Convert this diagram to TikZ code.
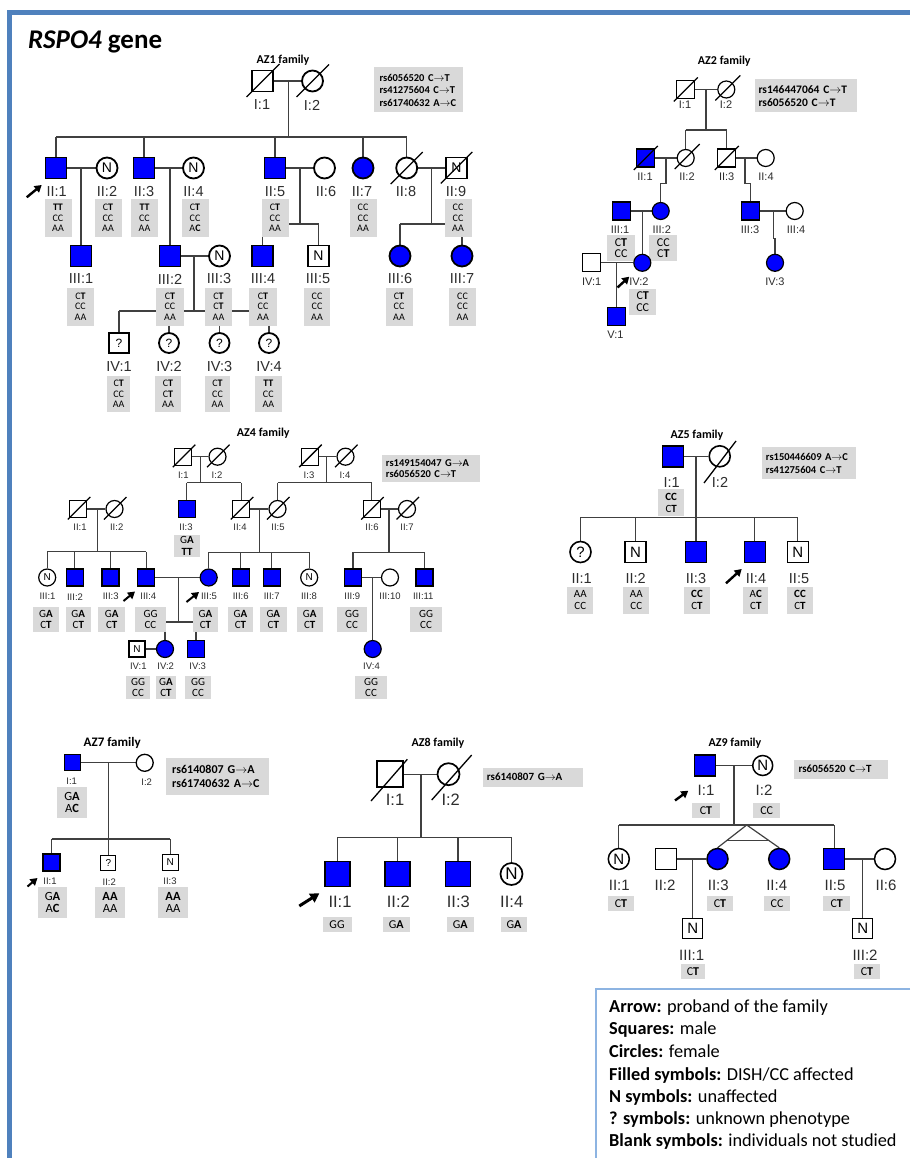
\documentclass[tikz,border=0pt]{standalone}
\usepackage{fontspec}
\usepackage{graphicx}
\setmainfont{Carlito}
\newfontfamily\arialf{Liberation Sans}
\usetikzlibrary{calc,arrows.meta}
\definecolor{frameblue}{RGB}{79,129,189}
\definecolor{legblue}{RGB}{141,180,226}
\definecolor{affblue}{RGB}{0,0,255}
\definecolor{boxgray}{RGB}{217,217,217}
\definecolor{linegray}{RGB}{64,64,64}
\definecolor{labgray}{RGB}{45,45,45}
\pgfdeclarelayer{back}
\pgfdeclarelayer{bg}
\pgfsetlayers{back,bg,main}
\newcommand\vA{\textbf{A}}
\newcommand\vC{\textbf{C}}
\newcommand\vT{\textbf{T}}
\newcommand\myfs[2]{\fontsize{#1}{#2}\selectfont}
\newcommand\deadmark[3]{\draw[slash] ($(#1.center)+(-#2,#2)$) -- ($(#1.center)+(#3,-#3)$);}
\newcommand\symfont{\arialf\myfs{14}{14}}
\newcommand\labfont{\arialf\myfs{14}{14}}
\newcommand\gtfont{\myfs{10}{10.5}}
\newcommand\snpfont{\myfs{11}{12.5}}
\newcommand\slw{1.6pt}
\tikzset{
  sq/.style={rectangle, draw=black, fill=white, minimum size=#1, inner sep=0pt, line width=\slw, font=\symfont},
  ci/.style={circle, draw=black, fill=white, minimum size=#1, inner sep=0pt, line width=\slw, font=\symfont},
  aff/.style={fill=affblue},
  rel/.style={draw=linegray, line width=1.2pt},
  slash/.style={draw=black, line width=1.3pt},
  gb/.style={fill=boxgray, inner sep=0pt, anchor=north, align=center, font=\gtfont},
  lab/.style={font=\labfont, text=labgray, inner sep=0pt},
  prb/.style={-{Triangle[length=7pt,width=8pt]}, line width=2.4pt},
  fam/.style={font=\bfseries\myfs{12}{12}, inner sep=0pt},
  snp/.style={fill=boxgray, anchor=north west, align=left, inner ysep=0pt, font=\bfseries\snpfont},
  leg/.style={anchor=base west, inner sep=0pt, font=\myfs{18.3}{18.3}},
}
\begin{document}
\begin{tikzpicture}[x=1pt,y=-1pt]
\useasboundingbox (0,0) rectangle (910,1158);
\begin{pgfonlayer}{back}
\fill[white] (0,0) rectangle (910,1158);
\end{pgfonlayer}
\draw[frameblue, line width=4.5pt] (9.7,1158) -- (9.7,12.5) -- (910,12.5);
\draw[legblue, line width=1.5pt] (910,989) -- (596,989) -- (596,1158);
\node[anchor=base west, inner sep=0pt, font=\bfseries\myfs{27}{27}] (title) at (28,48.5) {\textit{RSPO4} gene};

% ================= AZ1 =================
\renewcommand\symfont{\arialf\myfs{14}{14}}
\renewcommand\labfont{\arialf\myfs{14.5}{14.5}}
\renewcommand\gtfont{\myfs{10}{10.5}}
\renewcommand\snpfont{\myfs{10.5}{12.5}}
\renewcommand\slw{1.8pt}
\node[fam] (a1t) at (283,60) {AZ1 family};
\node[snp, inner xsep=6pt, text width=77pt, minimum height=45pt] (a1snp) at (373.3,67.3) {rs6056520~C$\rightarrow$T\\rs41275604~C$\rightarrow$T\\rs61740632~A$\rightarrow$C};
\node[sq=21pt] (a1I1) at (262.5,81) {};
\node[ci=21pt] (a1I2) at (312.5,81) {};
\deadmark{a1I1}{16}{17}
\deadmark{a1I2}{16}{16.5}
\node[lab] (a1lI1) at (262,105) {I:1};
\node[lab] (a1lI2) at (312,105) {I:2};
\node[sq=21pt, aff] (a1II1) at (56,168) {};
\node[ci=21pt] (a1II2) at (107,168) {N};
\node[sq=21pt, aff] (a1II3) at (144,168) {};
\node[ci=21pt] (a1II4) at (193.5,168) {N};
\node[sq=21pt, aff] (a1II5) at (275,168) {};
\node[ci=21pt] (a1II6) at (324.5,168) {};
\node[ci=21pt, aff] (a1II7) at (363,168) {};
\node[ci=21pt] (a1II8) at (406.7,168) {};
\node[sq=21pt] (a1II9) at (456.3,168) {N};
\deadmark{a1II8}{16}{16}
\deadmark{a1II9}{15.5}{16}
\node[lab] (a1lII1) at (56.7,191.7) {II:1};
\node[lab] (a1lII2) at (107,191.7) {II:2};
\node[lab] (a1lII3) at (144,191.7) {II:3};
\node[lab] (a1lII4) at (193.5,191.7) {II:4};
\node[lab] (a1lII5) at (275,191.7) {II:5};
\node[lab] (a1lII6) at (326,191.7) {II:6};
\node[lab] (a1lII7) at (362,191.7) {II:7};
\node[lab] (a1lII8) at (406,191.7) {II:8};
\node[lab] (a1lII9) at (456,191.7) {II:9};
\draw[prb] (26.7,197.3) -- (41.7,185);
\node[gb, minimum width=27pt, minimum height=38pt] (a1gII1) at (58,199) {\vT\vT\\CC\\AA};
\node[gb, minimum width=27pt, minimum height=38pt] (a1gII2) at (108,199) {C\vT\\CC\\AA};
\node[gb, minimum width=27pt, minimum height=38pt] (a1gII3) at (144.5,199) {\vT\vT\\CC\\AA};
\node[gb, minimum width=27pt, minimum height=38pt] (a1gII4) at (195,199) {C\vT\\CC\\A\vC};
\node[gb, minimum width=27pt, minimum height=38pt] (a1gII5) at (275,199) {C\vT\\CC\\AA};
\node[gb, minimum width=27pt, minimum height=38pt] (a1gII7) at (363,199) {CC\\CC\\AA};
\node[gb, minimum width=27pt, minimum height=38pt] (a1gII9) at (458,199) {CC\\CC\\AA};
\node[sq=21pt, aff] (a1III1) at (81,256) {};
\node[sq=21pt, aff] (a1III2) at (170,256) {};
\node[ci=21pt] (a1III3) at (219.5,256) {N};
\node[sq=21pt, aff] (a1III4) at (262.5,256) {};
\node[sq=21pt] (a1III5) at (318.5,256) {N};
\node[ci=21pt, aff] (a1III6) at (400,256) {};
\node[ci=21pt, aff] (a1III7) at (462,256) {};
\node[lab] (a1lIII1) at (81,279) {III:1};
\node[lab] (a1lIII2) at (170,279) {III:2};
\node[lab] (a1lIII3) at (219,279) {III:3};
\node[lab] (a1lIII4) at (263,279) {III:4};
\node[lab] (a1lIII5) at (318,279) {III:5};
\node[lab] (a1lIII6) at (400,279) {III:6};
\node[lab] (a1lIII7) at (462,279) {III:7};
\node[gb, minimum width=27pt, minimum height=38pt] (a1gIII1) at (80.5,287.3) {C\vT\\CC\\AA};
\node[gb, minimum width=28pt, minimum height=38pt] (a1gIII2) at (170,287.3) {C\vT\\CC\\AA};
\node[gb, minimum width=27pt, minimum height=38pt] (a1gIII3) at (218.5,287.3) {C\vT\\C\vT\\AA};
\node[gb, minimum width=28pt, minimum height=38pt] (a1gIII4) at (263,287.3) {C\vT\\CC\\AA};
\node[gb, minimum width=26pt, minimum height=38pt] (a1gIII5) at (317,287.3) {CC\\CC\\AA};
\node[gb, minimum width=27pt, minimum height=38pt] (a1gIII6) at (399,287.3) {C\vT\\CC\\AA};
\node[gb, minimum width=27pt, minimum height=38pt] (a1gIII7) at (462.5,287.3) {CC\\CC\\AA};
\renewcommand\symfont{\arialf\myfs{12}{12}}
\node[sq=20pt] (a1IV1) at (119,343) {?};
\node[ci=20pt] (a1IV2) at (169,343) {?};
\node[ci=20pt] (a1IV3) at (219.5,343) {?};
\node[ci=20pt] (a1IV4) at (269,343) {?};
\node[lab] (a1lIV1) at (119,366.7) {IV:1};
\node[lab] (a1lIV2) at (169,366.7) {IV:2};
\node[lab] (a1lIV3) at (219.5,366.7) {IV:3};
\node[lab] (a1lIV4) at (269,366.7) {IV:4};
\node[gb, minimum width=23pt, minimum height=36pt] (a1gIV1) at (118.7,375.7) {C\vT\\CC\\AA};
\node[gb, minimum width=26pt, minimum height=36pt] (a1gIV2) at (168,375.7) {C\vT\\C\vT\\AA};
\node[gb, minimum width=25pt, minimum height=36pt] (a1gIV3) at (217.5,375.7) {C\vT\\CC\\AA};
\node[gb, minimum width=27pt, minimum height=36pt] (a1gIV4) at (268.3,375.7) {\vT\vT\\CC\\AA};
\coordinate (a1d0) at (288.3,81);
\coordinate (a1s0L) at (56,137); \coordinate (a1s0R) at (406.7,137);
\coordinate (a1d3) at (300,168);
\coordinate (a1s3L) at (262.5,224); \coordinate (a1s3R) at (318.5,224);
\coordinate (a1d4) at (431.7,168);
\coordinate (a1s4L) at (400,224); \coordinate (a1s4R) at (462,224);
\coordinate (a1d5) at (194,256);
\coordinate (a1s5L) at (119,311); \coordinate (a1s5R) at (269,311);
\begin{pgfonlayer}{bg}
\draw[rel] (a1I1) -- (a1I2);
\draw[rel] (a1d0) -- (a1d0 |- a1s0L);
\draw[rel] (a1s0L) -- (a1s0R);
\foreach \c in {II1,II3,II5,II7,II8} \draw[rel] (a1\c) -- (a1\c |- a1s0L);
\draw[rel] (a1II1) -- (a1II2);
\draw[rel] (a1III1) -- (a1III1 |- a1II1);
\draw[rel] (a1II3) -- (a1II4);
\draw[rel] (a1III2) -- (a1III2 |- a1II3);
\draw[rel] (a1II5) -- (a1II6);
\draw[rel] (a1d3) -- (a1d3 |- a1s3L);
\draw[rel] (a1s3L) -- (a1s3R);
\foreach \c in {III4,III5} \draw[rel] (a1\c) -- (a1\c |- a1s3L);
\draw[rel] (a1II8) -- (a1II9);
\draw[rel] (a1d4) -- (a1d4 |- a1s4L);
\draw[rel] (a1s4L) -- (a1s4R);
\foreach \c in {III6,III7} \draw[rel] (a1\c) -- (a1\c |- a1s4L);
\draw[rel] (a1III2) -- (a1III3);
\draw[rel] (a1d5) -- (a1d5 |- a1s5L);
\draw[rel] (a1s5L) -- (a1s5R);
\foreach \c in {IV1,IV2,IV3,IV4} \draw[rel] (a1\c) -- (a1\c |- a1s5L);
\end{pgfonlayer}

% ================= AZ2 =================
\renewcommand\symfont{\arialf\myfs{12}{12}}
\renewcommand\labfont{\arialf\myfs{11}{11}}
\renewcommand\gtfont{\myfs{12}{11.5}}
\renewcommand\snpfont{\myfs{11.5}{13}}
\renewcommand\slw{1.2pt}
\node[fam] (a2t) at (724.3,61.7) {AZ2 family};
\node[snp, inner xsep=3.3pt, text width=95pt, minimum height=32.4pt] (a2snp) at (755,79.3) {rs146447064~C$\rightarrow$T\\rs6056520~C$\rightarrow$T};
\node[sq=18pt] (a2I1) at (685.8,89.5) {};
\node[ci=17pt] (a2I2) at (726.3,89.5) {};
\deadmark{a2I1}{12}{12}
\deadmark{a2I2}{11}{14}
\node[lab] (a2lI1) at (685,105) {I:1};
\node[lab] (a2lI2) at (726,105) {I:2};
\node[sq=18pt, aff] (a2II1) at (645.8,158) {};
\node[ci=17pt] (a2II2) at (685.7,158) {};
\node[sq=18pt] (a2II3) at (726.8,158) {};
\node[ci=17pt] (a2II4) at (765.7,158) {};
\deadmark{a2II1}{12}{12}
\deadmark{a2II2}{11}{14}
\deadmark{a2II3}{12}{12}
\node[lab] (a2lII1) at (645,176.7) {II:1};
\node[lab] (a2lII2) at (687,176.7) {II:2};
\node[lab] (a2lII3) at (726.7,176.7) {II:3};
\node[lab] (a2lII4) at (766,176.7) {II:4};
\node[sq=18pt, aff] (a2III1) at (621.3,211) {};
\node[ci=17pt, aff] (a2III2) at (660.7,211) {};
\node[sq=18pt, aff] (a2III3) at (750.2,211) {};
\node[ci=17pt] (a2III4) at (794.7,211) {};
\node[lab] (a2lIII1) at (620,230) {III:1};
\node[lab] (a2lIII2) at (661.7,230) {III:2};
\node[lab] (a2lIII3) at (750,230) {III:3};
\node[lab] (a2lIII4) at (796,230) {III:4};
\node[gb, minimum width=28.3pt, minimum height=25.7pt] (a2gIII1) at (621,235) {C\vT\\CC};
\node[gb, minimum width=28pt, minimum height=25.7pt] (a2gIII2) at (663.3,235) {CC\\C\vT};
\node[sq=18pt] (a2IV1) at (591.3,262.8) {};
\node[ci=17pt, aff] (a2IV2) at (642.3,262.8) {};
\node[ci=17pt, aff] (a2IV3) at (775,262.8) {};
\node[lab] (a2lIV1) at (591.7,281.7) {IV:1};
\node[lab] (a2lIV2) at (639,281.7) {IV:2};
\node[lab] (a2lIV3) at (775,281.7) {IV:3};
\draw[prb] (617.5,287.5) -- (629.3,276.7);
\node[gb, minimum width=26.7pt, minimum height=26.7pt] (a2gIV2) at (642.7,288.3) {C\vT\\CC};
\node[sq=18pt, aff] (a2V1) at (616.7,316.7) {};
\node[lab] (a2lV1) at (615.5,335) {V:1};
\coordinate (a2d0) at (706,89.5);
\coordinate (a2s0L) at (685.7,130); \coordinate (a2s0R) at (726.8,130);
\coordinate (a2d1) at (666,158); \coordinate (a2j1) at (666,183.3); \coordinate (a2j1b) at (660.7,183.3);
\coordinate (a2d2) at (745,158); \coordinate (a2j2) at (745,183.3); \coordinate (a2j2b) at (750.2,183.3);
\coordinate (a2d3) at (642.3,211);
\coordinate (a2d4) at (773.3,211); \coordinate (a2j4) at (773.3,238.3); \coordinate (a2j4b) at (775,238.3);
\coordinate (a2d5) at (616.7,262.8);
\begin{pgfonlayer}{bg}
\draw[rel] (a2I1) -- (a2I2);
\draw[rel] (a2d0) -- (a2d0 |- a2s0L);
\draw[rel] (a2s0L) -- (a2s0R);
\foreach \c in {II2,II3} \draw[rel] (a2\c) -- (a2\c |- a2s0L);
\draw[rel] (a2II1) -- (a2II2);
\draw[rel] (a2d1) -- (a2j1) -- (a2j1b) -- (a2III2);
\draw[rel] (a2II3) -- (a2II4);
\draw[rel] (a2d2) -- (a2j2) -- (a2j2b) -- (a2III3);
\draw[rel] (a2III1) -- (a2III2);
\draw[rel] (a2d3) -- (a2IV2);
\draw[rel] (a2III3) -- (a2III4);
\draw[rel] (a2d4) -- (a2j4) -- (a2j4b) -- (a2IV3);
\draw[rel] (a2IV1) -- (a2IV2);
\draw[rel] (a2d5) -- (a2V1);
\end{pgfonlayer}

% ================= AZ4 =================
\renewcommand\symfont{\arialf\myfs{10}{10}}
\renewcommand\labfont{\arialf\myfs{9.5}{9.5}}
\renewcommand\gtfont{\myfs{11}{11.3}}
\renewcommand\snpfont{\myfs{10.5}{11.3}}
\renewcommand\slw{1.2pt}
\node[fam] (a4t) at (263.3,433.3) {AZ4 family};
\node[snp, inner xsep=4pt, text width=90.3pt, minimum height=26.7pt] (a4snp) at (381.7,455) {rs149154047~G$\rightarrow$A\\rs6056520~C$\rightarrow$T};
\node[sq=17pt] (a4I1) at (183.3,456.7) {};
\node[ci=17pt] (a4I2) at (217.5,456.7) {};
\node[sq=17pt] (a4I3) at (309.7,456.7) {};
\node[ci=17pt] (a4I4) at (345.5,456.7) {};
\node[lab] (a4lI1) at (183.3,475) {I:1};
\node[lab] (a4lI2) at (217,475) {I:2};
\node[lab] (a4lI3) at (309,475) {I:3};
\node[lab] (a4lI4) at (345,475) {I:4};
\node[sq=17pt] (a4II1) at (78.3,509) {};
\node[ci=17pt] (a4II2) at (114.5,509) {};
\node[sq=17pt, aff] (a4II3) at (186.7,509) {};
\node[sq=17pt] (a4II4) at (241.3,509) {};
\node[ci=17pt] (a4II5) at (277.5,509) {};
\node[sq=17pt] (a4II6) at (371.7,509) {};
\node[ci=17pt] (a4II7) at (407,509) {};
\foreach \c in {I1,I2,I3,I4,II1,II2,II4,II5,II6,II7} {\deadmark{a4\c}{10.5}{12}}
\node[lab] (a4lII1) at (80,527.3) {II:1};
\node[lab] (a4lII2) at (116.7,527.3) {II:2};
\node[lab] (a4lII3) at (186,527.3) {II:3};
\node[lab] (a4lII4) at (240,527.3) {II:4};
\node[lab] (a4lII5) at (278,527.3) {II:5};
\node[lab] (a4lII6) at (372,527.3) {II:6};
\node[lab] (a4lII7) at (407,527.3) {II:7};
\node[gb, minimum width=26pt, minimum height=21.7pt] (a4gII3) at (187,535) {G\vA\\\vT\vT};
\node[ci=17pt] (a4III1) at (47.2,577.5) {N};
\node[sq=17pt, aff] (a4III2) at (74.7,577.5) {};
\node[sq=17pt, aff] (a4III3) at (110.5,577.5) {};
\node[sq=17pt, aff] (a4III4) at (146.3,577.5) {};
\node[ci=17pt, aff] (a4III5) at (208.7,577.5) {};
\node[sq=17pt, aff] (a4III6) at (240.8,577.5) {};
\node[sq=17pt, aff] (a4III7) at (271.8,577.5) {};
\node[ci=17pt] (a4III8) at (309.2,577.5) {N};
\node[sq=17pt, aff] (a4III9) at (353,577.5) {};
\node[ci=17pt] (a4III10) at (390,577.5) {};
\node[sq=17pt, aff] (a4III11) at (424.5,577.5) {};
\node[lab] (a4lIII1) at (47.5,596.7) {III:1};
\node[lab] (a4lIII2) at (75,596.7) {III:2};
\node[lab] (a4lIII3) at (110.7,596.7) {III:3};
\node[lab] (a4lIII4) at (148.3,596.7) {III:4};
\node[lab] (a4lIII5) at (209,596.7) {III:5};
\node[lab] (a4lIII6) at (240.7,596.7) {III:6};
\node[lab] (a4lIII7) at (271.7,596.7) {III:7};
\node[lab] (a4lIII8) at (309,596.7) {III:8};
\node[lab] (a4lIII9) at (352.3,596.7) {III:9};
\node[lab] (a4lIII10) at (390,596.7) {III:10};
\node[lab] (a4lIII11) at (423.3,596.7) {III:11};
\begin{scope}[prb/.append style={line width=2pt}]
\draw[prb] (123.5,601) -- (135,591.5);
\draw[prb] (186.5,602) -- (199,592);
\end{scope}
\node[gb, minimum width=26pt, minimum height=25pt] (a4gIII1) at (46,607) {G\vA\\C\vT};
\node[gb, minimum width=24.7pt, minimum height=25pt] (a4gIII2) at (78.3,607) {G\vA\\C\vT};
\node[gb, minimum width=26.7pt, minimum height=25pt] (a4gIII3) at (111.7,607) {G\vA\\C\vT};
\node[gb, minimum width=31pt, minimum height=25pt] (a4gIII4) at (150.5,607) {GG\\CC};
\node[gb, minimum width=25.6pt, minimum height=25pt] (a4gIII5) at (205.5,607) {G\vA\\C\vT};
\node[gb, minimum width=25.6pt, minimum height=25pt] (a4gIII6) at (240.5,607) {G\vA\\C\vT};
\node[gb, minimum width=26.7pt, minimum height=25pt] (a4gIII7) at (273.3,607) {G\vA\\C\vT};
\node[gb, minimum width=26pt, minimum height=25pt] (a4gIII8) at (309.7,607) {G\vA\\C\vT};
\node[gb, minimum width=29.4pt, minimum height=25pt] (a4gIII9) at (352,607) {GG\\CC};
\node[gb, minimum width=32.7pt, minimum height=25pt] (a4gIII11) at (426,607) {GG\\CC};
\node[sq=16pt] (a4IV1) at (137,649) {N};
\node[ci=17pt, aff] (a4IV2) at (165,649) {};
\node[sq=17pt, aff] (a4IV3) at (196,649) {};
\node[ci=17pt, aff] (a4IV4) at (372.7,649) {};
\node[lab] (a4lIV1) at (138.3,666) {IV:1};
\node[lab] (a4lIV2) at (165.7,666) {IV:2};
\node[lab] (a4lIV3) at (197.7,666) {IV:3};
\node[lab] (a4lIV4) at (371.5,666) {IV:4};
\node[gb, minimum width=24pt, minimum height=22.3pt] (a4gIV1) at (138,676) {GG\\CC};
\node[gb, minimum width=20pt, minimum height=22.3pt] (a4gIV2) at (166,676) {G\vA\\C\vT};
\node[gb, minimum width=26.7pt, minimum height=22.3pt] (a4gIV3) at (198,676) {GG\\CC};
\node[gb, minimum width=32.3pt, minimum height=22.3pt] (a4gIV4) at (371,676) {GG\\CC};
\coordinate (a4d1) at (200.7,456.7);
\coordinate (a4s1L) at (186.7,482.7); \coordinate (a4s1R) at (241.3,482.7);
\coordinate (a4d2) at (326.7,456.7);
\coordinate (a4s2L) at (277.5,482.5); \coordinate (a4s2R) at (371.7,482.5);
\coordinate (a4d3) at (97.3,509);
\coordinate (a4s3L) at (47.2,551.7); \coordinate (a4s3R) at (146.3,551.7);
\coordinate (a4d4) at (259.3,509);
\coordinate (a4s4L) at (208.7,552.3); \coordinate (a4s4R) at (309.2,552.3);
\coordinate (a4d5) at (389,509);
\coordinate (a4s5L) at (353,552.3); \coordinate (a4s5R) at (424.5,552.3);
\coordinate (a4d6) at (178.3,577.5);
\coordinate (a4s6L) at (165,622); \coordinate (a4s6R) at (196,622);
\coordinate (a4d7) at (372.7,577.5);
\begin{pgfonlayer}{bg}
\draw[rel] (a4I1) -- (a4I2);
\draw[rel] (a4d1) -- (a4d1 |- a4s1L);
\draw[rel] (a4s1L) -- (a4s1R);
\foreach \c in {II3,II4} \draw[rel] (a4\c) -- (a4\c |- a4s1L);
\draw[rel] (a4I3) -- (a4I4);
\draw[rel] (a4d2) -- (a4d2 |- a4s2L);
\draw[rel] (a4s2L) -- (a4s2R);
\foreach \c in {II5,II6} \draw[rel] (a4\c) -- (a4\c |- a4s2L);
\draw[rel] (a4II1) -- (a4II2);
\draw[rel] (a4d3) -- (a4d3 |- a4s3L);
\draw[rel] (a4s3L) -- (a4s3R);
\foreach \c in {III1,III2,III3,III4} \draw[rel] (a4\c) -- (a4\c |- a4s3L);
\draw[rel] (a4II4) -- (a4II5);
\draw[rel] (a4d4) -- (a4d4 |- a4s4L);
\draw[rel] (a4s4L) -- (a4s4R);
\foreach \c in {III5,III6,III7,III8} \draw[rel] (a4\c) -- (a4\c |- a4s4L);
\draw[rel] (a4II6) -- (a4II7);
\draw[rel] (a4d5) -- (a4d5 |- a4s5L);
\draw[rel] (a4s5L) -- (a4s5R);
\foreach \c in {III9,III11} \draw[rel] (a4\c) -- (a4\c |- a4s5L);
\draw[rel] (a4III4) -- (a4III5);
\draw[rel] (a4d6) -- (a4d6 |- a4s6L);
\draw[rel] (a4s6L) -- (a4s6R);
\foreach \c in {IV2,IV3} \draw[rel] (a4\c) -- (a4\c |- a4s6L);
\draw[rel] (a4III9) -- (a4III10);
\draw[rel] (a4d7) -- (a4IV4);
\draw[rel] (a4IV1) -- (a4IV2);
\end{pgfonlayer}

% ================= AZ5 =================
\renewcommand\symfont{\arialf\myfs{15}{15}}
\renewcommand\labfont{\arialf\myfs{14.5}{14.5}}
\renewcommand\gtfont{\myfs{11}{11.7}}
\renewcommand\snpfont{\myfs{10.5}{13}}
\renewcommand\slw{1.6pt}
\node[fam] (a5t) at (697,435) {AZ5 family};
\node[snp, inner xsep=4pt, text width=86.3pt, minimum height=32.3pt] (a5snp) at (761.7,446.7) {rs150446609~A$\rightarrow$C\\rs41275604~C$\rightarrow$T};
\node[sq=21pt, aff] (a5I1) at (672.8,456.3) {};
\node[ci=21pt] (a5I2) at (719.7,456.3) {};
\coordinate (a5x1) at (704,483); \coordinate (a5x2) at (736,441);
\draw[slash] (a5x1) -- (a5x2);
\node[lab] (a5lI1) at (671.7,482.7) {I:1};
\node[lab] (a5lI2) at (720,482.7) {I:2};
\node[gb, minimum width=25.7pt, minimum height=27pt] (a5gI1) at (671.2,489) {\vC\vC\\C\vT};
\node[ci=21pt] (a5II1) at (580.5,552) {?};
\node[sq=21pt] (a5II2) at (635.5,552) {N};
\node[sq=21pt, aff] (a5II3) at (696,552) {};
\node[sq=21pt, aff] (a5II4) at (754.8,552) {};
\node[sq=21pt] (a5II5) at (797.8,552) {N};
\node[lab] (a5lII1) at (581.7,578.3) {II:1};
\node[lab] (a5lII2) at (635.7,578.3) {II:2};
\node[lab] (a5lII3) at (696,578.3) {II:3};
\node[lab] (a5lII4) at (756,578.3) {II:4};
\node[lab] (a5lII5) at (799,578.3) {II:5};
\draw[prb] (726,583.3) -- (741.7,569);
\node[gb, minimum width=26pt, minimum height=26.7pt] (a5gII1) at (580.3,586.7) {AA\\CC};
\node[gb, minimum width=26pt, minimum height=26.7pt] (a5gII2) at (636.3,586.7) {AA\\CC};
\node[gb, minimum width=26pt, minimum height=26.7pt] (a5gII3) at (697,586.7) {\vC\vC\\C\vT};
\node[gb, minimum width=25pt, minimum height=26.7pt] (a5gII4) at (755.8,586.7) {A\vC\\C\vT};
\node[gb, minimum width=26.6pt, minimum height=26.7pt] (a5gII5) at (800,586.7) {\vC\vC\\C\vT};
\coordinate (a5d0) at (696,456.3);
\coordinate (a5s0L) at (580.5,517.3); \coordinate (a5s0R) at (797.8,517.3);
\begin{pgfonlayer}{bg}
\draw[rel] (a5I1) -- (a5I2);
\draw[rel] (a5d0) -- (a5d0 |- a5s0L);
\draw[rel] (a5s0L) -- (a5s0R);
\foreach \c in {II1,II2,II3,II4,II5} \draw[rel] (a5\c) -- (a5\c |- a5s0L);
\end{pgfonlayer}

% ================= AZ7 =================
\renewcommand\symfont{\arialf\myfs{10}{10}}
\renewcommand\labfont{\arialf\myfs{9.5}{9.5}}
\renewcommand\gtfont{\myfs{12.5}{12}}
\renewcommand\snpfont{\myfs{12}{14}}
\renewcommand\slw{1.3pt}
\node[fam, font=\bfseries\myfs{13}{13}] (a7t) at (112.2,743.3) {AZ7 family};
\node[snp, inner xsep=6pt, text width=90.3pt, minimum height=37.3pt] (a7snp) at (166,757.7) {rs6140807~G$\rightarrow$A\\rs61740632~A$\rightarrow$C};
\node[sq=16pt, aff] (a7I1) at (72.2,762.8) {};
\node[ci=17pt] (a7I2) at (144.7,762.8) {};
\node[lab] (a7lI1) at (71.7,781.7) {I:1};
\node[lab] (a7lI2) at (146.7,781.7) {I:2};
\node[gb, minimum width=30.6pt, minimum height=31pt] (a7gI1) at (72,786.7) {G\vA\\A\vC};
\node[sq=17pt, aff] (a7II1) at (51.5,862.5) {};
\node[sq=15pt] (a7II2) at (108.3,863) {?};
\node[sq=16pt] (a7II3) at (170.3,862.5) {N};
\node[lab] (a7lII1) at (50,881.7) {II:1};
\node[lab] (a7lII2) at (109.3,881.7) {II:2};
\node[lab] (a7lII3) at (170,881.7) {II:3};
\begin{scope}[prb/.append style={line width=2pt}]
\draw[prb] (27.5,886.5) -- (37.5,878);
\end{scope}
\node[gb, minimum width=29.6pt, minimum height=31pt] (a7gII1) at (52.5,886.7) {G\vA\\A\vC};
\node[gb, minimum width=29.3pt, minimum height=31pt] (a7gII2) at (110,886.7) {\vA\vA\\AA};
\node[gb, minimum width=30.6pt, minimum height=31pt] (a7gII3) at (173,886.7) {\vA\vA\\AA};
\coordinate (a7d0) at (108.3,762.8);
\coordinate (a7s0L) at (51.5,839); \coordinate (a7s0R) at (170.3,839);
\begin{pgfonlayer}{bg}
\draw[rel] (a7I1) -- (a7I2);
\draw[rel] (a7d0) -- (a7d0 |- a7s0L);
\draw[rel] (a7s0L) -- (a7s0R);
\foreach \c in {II1,II2,II3} \draw[rel] (a7\c) -- (a7\c |- a7s0L);
\end{pgfonlayer}

% ================= AZ8 =================
\renewcommand\symfont{\arialf\myfs{17}{17}}
\renewcommand\labfont{\arialf\myfs{16.5}{16.5}}
\renewcommand\gtfont{\myfs{12}{12}}
\renewcommand\snpfont{\myfs{11}{12}}
\renewcommand\slw{1.7pt}
\node[fam] (a8t) at (438,743.3) {AZ8 family};
\node[snp, inner xsep=4pt, text width=92pt, minimum height=19.4pt] (a8snp) at (482.7,767.3) {rs6140807~G$\rightarrow$A};
\node[sq=26pt] (a8I1) at (390.3,774.2) {};
\node[ci=22pt] (a8I2) at (448.5,774.2) {};
\coordinate (a8x1) at (371,801); \coordinate (a8x2) at (407.3,759.3);
\coordinate (a8x3) at (431.7,800); \coordinate (a8x4) at (471.7,755);
\draw[slash] (a8x1) -- (a8x2);
\draw[slash] (a8x3) -- (a8x4);
\node[lab] (a8lI1) at (395,800) {I:1};
\node[lab] (a8lI2) at (450.7,800) {I:2};
\node[sq=25pt, aff] (a8II1) at (337.5,874) {};
\node[sq=25pt, aff] (a8II2) at (397.8,874) {};
\node[sq=25pt, aff] (a8II3) at (458,874) {};
\node[ci=22pt] (a8II4) at (511.5,874) {N};
\node[lab] (a8lII1) at (340,901.7) {II:1};
\node[lab] (a8lII2) at (398.3,901.7) {II:2};
\node[lab] (a8lII3) at (458.3,901.7) {II:3};
\node[lab] (a8lII4) at (511.7,901.7) {II:4};
\begin{scope}[prb/.append style={line width=3pt, -{Triangle[length=9pt,width=10pt]}}]
\draw[prb] (299.3,906) -- (319.3,893.3);
\end{scope}
\node[gb, minimum width=29pt, minimum height=15pt] (a8gII1) at (337,916.7) {GG};
\node[gb, minimum width=27.3pt, minimum height=15pt] (a8gII2) at (396.3,916.7) {G\vA};
\node[gb, minimum width=27.3pt, minimum height=15pt] (a8gII3) at (460.3,916.7) {G\vA};
\node[gb, minimum width=26.6pt, minimum height=15pt] (a8gII4) at (514,916.7) {G\vA};
\coordinate (a8d0) at (421,774.2);
\coordinate (a8s0L) at (337.5,837.3); \coordinate (a8s0R) at (511.5,837.3);
\begin{pgfonlayer}{bg}
\draw[rel] (a8I1) -- (a8I2);
\draw[rel] (a8d0) -- (a8d0 |- a8s0L);
\draw[rel] (a8s0L) -- (a8s0R);
\foreach \c in {II1,II2,II3,II4} \draw[rel] (a8\c) -- (a8\c |- a8s0L);
\end{pgfonlayer}

% ================= AZ9 =================
\renewcommand\symfont{\arialf\myfs{15}{15}}
\renewcommand\labfont{\arialf\myfs{15}{15}}
\renewcommand\gtfont{\myfs{12}{12}}
\renewcommand\snpfont{\myfs{11}{12}}
\renewcommand\slw{1.5pt}
\node[fam] (a9t) at (735,743.3) {AZ9 family};
\node[snp, inner xsep=5pt, text width=84pt, minimum height=19pt] (a9snp) at (793.3,759.3) {rs6056520~C$\rightarrow$T};
\node[sq=21pt, aff] (a9I1) at (705,765.5) {};
\node[ci=20pt] (a9I2) at (762.7,765.5) {N};
\node[lab] (a9lI1) at (706,790) {I:1};
\node[lab] (a9lI2) at (764,790) {I:2};
\draw[prb] (675,800.5) -- (688.3,790.7);
\node[gb, minimum width=28.3pt, minimum height=14.7pt] (a9gI1) at (706,802.7) {C\vT};
\node[gb, minimum width=26.7pt, minimum height=14.7pt] (a9gI2) at (766.7,802.7) {CC};
\node[ci=21pt] (a9II1) at (618.8,859) {N};
\node[sq=21pt] (a9II2) at (665.8,859) {};
\node[ci=21pt, aff] (a9II3) at (717.5,859) {};
\node[ci=21pt, aff] (a9II4) at (779.2,859) {};
\node[sq=21pt, aff] (a9II5) at (834.2,859) {};
\node[ci=21pt] (a9II6) at (885,859) {};
\node[lab] (a9lII1) at (619.3,885) {II:1};
\node[lab] (a9lII2) at (665,885) {II:2};
\node[lab] (a9lII3) at (718.3,885) {II:3};
\node[lab] (a9lII4) at (776.7,885) {II:4};
\node[lab] (a9lII5) at (835,885) {II:5};
\node[lab] (a9lII6) at (886,885) {II:6};
\node[gb, minimum width=26.7pt, minimum height=14.7pt] (a9gII1) at (621,896) {C\vT};
\node[gb, minimum width=26.7pt, minimum height=14.7pt] (a9gII3) at (720,896) {C\vT};
\node[gb, minimum width=25.7pt, minimum height=14.7pt] (a9gII4) at (777,896) {CC};
\node[gb, minimum width=26.7pt, minimum height=14.7pt] (a9gII5) at (836.7,896) {C\vT};
\node[sq=20pt] (a9III1) at (692.7,928.3) {N};
\node[sq=20pt] (a9III2) at (862.7,928.3) {N};
\node[lab] (a9lIII1) at (691.7,955) {III:1};
\node[lab] (a9lIII2) at (865,955) {III:2};
\node[gb, minimum width=24.3pt, minimum height=15pt] (a9gIII1) at (693,964) {C\vT};
\node[gb, minimum width=26pt, minimum height=15pt] (a9gIII2) at (867,964) {C\vT};
\coordinate (a9d0) at (734,765.5);
\coordinate (a9s0L) at (618.8,825); \coordinate (a9s0R) at (834.2,825);
\coordinate (a9tw) at (746.7,825);
\coordinate (a9d1) at (692.7,859);
\coordinate (a9d2) at (862.7,859);
\begin{pgfonlayer}{bg}
\draw[rel] (a9I1) -- (a9I2);
\draw[rel] (a9d0) -- (a9d0 |- a9s0L);
\draw[rel] (a9s0L) -- (a9s0R);
\foreach \c in {II1,II5} \draw[rel] (a9\c) -- (a9\c |- a9s0L);
\draw[rel] (a9tw) -- (a9II3.north);
\draw[rel] (a9tw) -- (a9II4.north);
\draw[rel] ($(a9tw)!0.67!(a9II3.north)$) -- ($(a9tw)!0.67!(a9II4.north)$);
\draw[rel] (a9II2) -- (a9II3);
\draw[rel] (a9d1) -- (a9III1);
\draw[rel] (a9II5) -- (a9II6);
\draw[rel] (a9d2) -- (a9III2);
\end{pgfonlayer}

% ================= Legend =================
\node[leg] (lg1) at (609,1012.3) {\textbf{Arrow:} proband of the family};
\node[leg] (lg2) at (609,1034.2) {\textbf{Squares:} male};
\node[leg] (lg3) at (609,1057.3) {\textbf{Circles:} female};
\node[leg] (lg4) at (609,1080) {\textbf{Filled symbols:} DISH/CC affected};
\node[leg] (lg5) at (609,1102.3) {\textbf{N symbols:} unaffected};
\node[leg] (lg6) at (609,1124.6) {\textbf{? symbols:} unknown phenotype};
\node[leg] (lg7) at (609,1146.8) {\textbf{Blank symbols:} individuals not studied};
\end{tikzpicture}
\end{document}
